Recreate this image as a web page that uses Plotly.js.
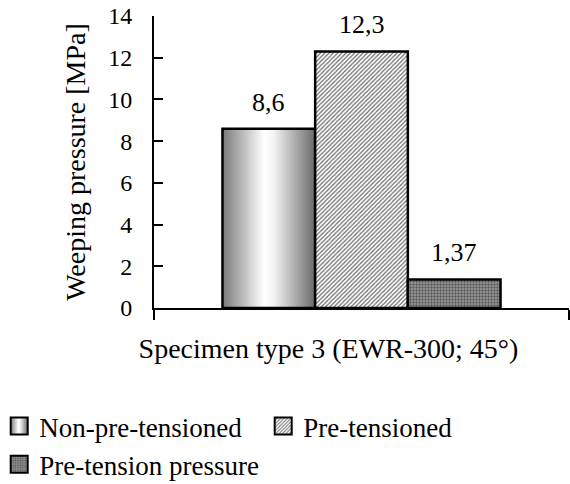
<!DOCTYPE html>
<html>
<head>
<meta charset="utf-8">
<script src="https://cdn.plot.ly/plotly-3.0.1.min.js"></script>
<style>html,body{margin:0;padding:0;background:#fff;}</style>
</head>
<body>
<div id="chart" style="width:570px;height:484px;"></div>
<script>
// ---- data ----
const categories = ["Specimen type 3 (EWR-300; 45°)"];
const seriesNames = ["Non-pre-tensioned", "Pre-tensioned", "Pre-tension pressure"];
const nonPreTensioned = [8.6];
const preTensioned = [12.3];
const preTensionPressure = [1.37];
const valueLabels = ["8,6", "12,3", "1,37"];
const yTickVals = [0, 2, 4, 6, 8, 10, 12, 14];

const FONT = "'Liberation Serif', 'Times New Roman', Times, serif";
const BARGAP = 0.33;
const seriesValues = [nonPreTensioned, preTensioned, preTensionPressure];

const patterns = [
  null,
  {shape: "/", size: 3, solidity: 0.4, fgcolor: "#6a6a6a", bgcolor: "#ffffff"},
  {shape: ".", size: 3, solidity: 0.5, fgcolor: "#5a5a5a", bgcolor: "#a0a0a0"}
];

const traces = seriesNames.map((name, i) => {
  const m = {color: i === 0 ? "#d0d0d0" : "#fff", line: {color: "#000", width: 2.5}};
  if (patterns[i]) m.pattern = patterns[i];
  return {type: "bar", name: name, x: categories, y: seriesValues[i], marker: m, hoverinfo: "none"};
});

// value labels above bars
const nSeries = seriesNames.length;
const bw = (1 - BARGAP) / nSeries;
const annotations = seriesValues.map((vals, i) => ({
  x: -(1 - BARGAP) / 2 + bw * (i + 0.5),
  y: vals[0],
  xref: "x", yref: "y",
  text: valueLabels[i],
  showarrow: false,
  yanchor: "bottom",
  yshift: 10,
  font: {family: FONT, size: 26, color: "#000"}
}));

const layout = {
  width: 570, height: 484,
  margin: {l: 154, r: 1, t: 16, b: 176, autoexpand: false},
  paper_bgcolor: "#fff", plot_bgcolor: "#fff",
  barmode: "group", bargap: BARGAP, bargroupgap: 0,
  font: {family: FONT, color: "#000"},
  showlegend: true,
  legend: {
    orientation: "h", xref: "paper", yref: "paper",
    x: -0.373, y: -0.322, xanchor: "left", yanchor: "top",
    entrywidth: 219, entrywidthmode: "pixels",
    font: {family: FONT, size: 27, color: "#000"},
    traceorder: "normal"
  },
  xaxis: {
    type: "category",
    showline: true, linecolor: "#000", linewidth: 2,
    ticks: "outside", tickson: "boundaries", ticklen: 10, tickwidth: 1.5, tickcolor: "#000",
    tickfont: {family: FONT, size: 28, color: "#000"},
    tickangle: 0,
    ticklabelshift: -33, ticklabelstandoff: 14,
    showgrid: false, zeroline: false, fixedrange: true
  },
  yaxis: {
    range: [0, 14], tickvals: yTickVals,
    showline: true, linecolor: "#000", linewidth: 2,
    ticks: "inside", ticklen: 9, tickwidth: 2, tickcolor: "#000",
    tickfont: {family: FONT, size: 24, color: "#000"},
    ticklabelstandoff: 15,
    showgrid: false, zeroline: false, fixedrange: true,
    title: {text: "Weeping pressure [MPa]", font: {family: FONT, size: 28, color: "#000"}, standoff: 14}
  },
  annotations: annotations
};

function addGradient(gd) {
  const svgs = gd.querySelectorAll("svg.main-svg");
  const defs = svgs[0].querySelector("defs");
  if (!document.getElementById("cylGrad")) {
    const ns = "http://www.w3.org/2000/svg";
    const g = document.createElementNS(ns, "linearGradient");
    g.setAttribute("id", "cylGrad");
    g.setAttribute("x1", "0"); g.setAttribute("x2", "1");
    g.setAttribute("y1", "0"); g.setAttribute("y2", "0");
    [["0", "#7a7a7a"], ["0.45", "#ffffff"], ["0.55", "#f4f4f4"], ["1", "#6a6a6a"]].forEach(([o, c]) => {
      const s = document.createElementNS(ns, "stop");
      s.setAttribute("offset", o); s.setAttribute("stop-color", c);
      g.appendChild(s);
    });
    defs.appendChild(g);
  }
  const tr = gd.querySelectorAll(".barlayer .trace");
  if (tr[0]) tr[0].querySelectorAll("path").forEach(p => p.style.fill = "url(#cylGrad)");
  const lg = gd.querySelectorAll("g.legend g.traces");
  lg.forEach((t, i) => {
    t.querySelectorAll("g.legendpoints path").forEach(p => {
      p.setAttribute("d", "M8.5,8.5H-8.5V-8.5H8.5Z");
      p.style.strokeWidth = "2px";
      if (i === 0) p.style.fill = "url(#cylGrad)";
    });
  });
}

const gd = document.getElementById("chart");
Plotly.newPlot(gd, traces, layout, {displayModeBar: false, staticPlot: true}).then(() => {
  addGradient(gd);
  gd.on("plotly_afterplot", () => addGradient(gd));
});
</script>
</body>
</html>
